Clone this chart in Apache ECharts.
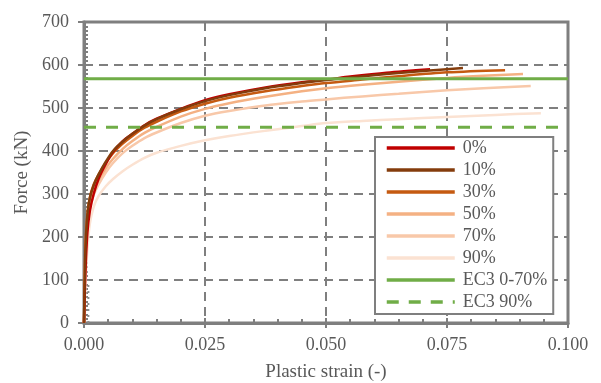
<!DOCTYPE html>
<html>
<head>
<meta charset="utf-8">
<script src="https://cdn.jsdelivr.net/npm/echarts@6/dist/echarts.min.js"></script>
<style>html,body{margin:0;padding:0;background:#fff}#c{width:601px;height:383px}</style>
</head>
<body>
<div id="c"></div>
<script>
// ---- data ----
const xTicks = [0, 0.025, 0.05, 0.075, 0.1];
const yTicks = [0, 100, 200, 300, 400, 500, 600, 700];

const strain0  = [0, 0.0003, 0.0007, 0.0012, 0.002, 0.003, 0.0045, 0.006, 0.008, 0.010, 0.0125, 0.015, 0.02, 0.025, 0.03, 0.0375, 0.045, 0.05, 0.055, 0.0625, 0.0715];
const force0   = [0, 120, 210, 260, 300, 335, 370, 398, 423, 440, 460, 475, 498, 518, 532, 548, 560, 566, 573, 582, 590];

const strain10 = [0, 0.0003, 0.0007, 0.0012, 0.002, 0.003, 0.0045, 0.006, 0.008, 0.010, 0.0125, 0.015, 0.02, 0.025, 0.03, 0.0375, 0.045, 0.05, 0.055, 0.0625, 0.07, 0.0783];
const force10  = [0, 170, 250, 290, 320, 345, 375, 400, 422, 440, 459, 474, 497, 516, 530, 546, 558, 565, 571, 579, 586, 593];

const strain30 = [0, 0.0003, 0.0007, 0.0012, 0.002, 0.003, 0.0045, 0.006, 0.008, 0.010, 0.0125, 0.015, 0.02, 0.025, 0.03, 0.0375, 0.045, 0.05, 0.0575, 0.065, 0.075, 0.087];
const force30  = [0, 180, 255, 292, 322, 345, 372, 395, 417, 435, 454, 468, 492, 510, 524, 539, 551, 558, 566, 574, 583, 588];

const strain50 = [0, 0.0003, 0.0007, 0.0012, 0.002, 0.003, 0.0045, 0.006, 0.008, 0.010, 0.0125, 0.015, 0.02, 0.025, 0.03, 0.0375, 0.045, 0.05, 0.0575, 0.065, 0.075, 0.0825, 0.0907];
const force50  = [0, 170, 240, 278, 308, 332, 360, 382, 405, 423, 442, 456, 480, 498, 511, 526, 539, 546, 554, 561, 570, 575, 579];

const strain70 = [0, 0.0003, 0.0007, 0.0012, 0.002, 0.003, 0.0045, 0.006, 0.008, 0.010, 0.0125, 0.015, 0.02, 0.025, 0.03, 0.0375, 0.045, 0.05, 0.0575, 0.065, 0.075, 0.0825, 0.0923];
const force70  = [0, 150, 225, 265, 298, 322, 350, 372, 395, 412, 430, 443, 465, 482, 493, 506, 515, 520, 527, 533, 541, 546, 551];

const strain90 = [0, 0.0003, 0.0007, 0.0012, 0.002, 0.003, 0.0045, 0.006, 0.008, 0.010, 0.0125, 0.015, 0.02, 0.025, 0.03, 0.0375, 0.045, 0.05, 0.0575, 0.065, 0.075, 0.085, 0.0944];
const force90  = [0, 90, 170, 230, 270, 295, 318, 335, 353, 368, 384, 396, 412, 425, 435, 447, 458, 465, 470, 474, 479, 484, 488];

const ec3StrainRange = [0, 0.1];
const ec3Full = [568, 568];
const ec390 = [455, 455];

const dotStrain = [0.0009, 0.0009];
const dotForce = [0, 100];

const names = ['0%', '10%', '30%', '50%', '70%', '90%', 'EC3 0-70%', 'EC3 90%'];

// ---- chart ----
const zip = (a, b) => a.map((v, i) => [v, b[i]]);
const txt = '#595959';
const axisGray = '#7f7f7f';
const font = 'Liberation Serif';

function curve(name, xs, ys, color, z) {
  return {
    name, type: 'line', data: zip(xs, ys), symbol: 'none', smooth: 0.3,
    lineStyle: { color, width: 2.5 }, itemStyle: { color }, z
  };
}

const chart = echarts.init(document.getElementById('c'), null, { renderer: 'canvas' });
chart.setOption({
  animation: false,
  backgroundColor: '#fff',
  grid: { left: 84, right: 33, top: 22, bottom: 60, containLabel: false, outerBoundsMode: 'none', show: true, borderColor: axisGray, borderWidth: 3, backgroundColor: 'transparent' },
  xAxis: [{
    type: 'value', min: xTicks[0], max: xTicks[xTicks.length - 1], interval: 0.025,
    name: 'Plastic strain (-)', nameLocation: 'middle', nameGap: 40,
    nameTextStyle: { color: txt, fontFamily: font, fontSize: 19 },
    axisLine: { show: true, lineStyle: { color: axisGray, width: 3 } },
    axisTick: { show: true, inside: true, length: 5, lineStyle: { color: axisGray, width: 2 } },
    minorTick: { show: true, splitNumber: 5, length: 4, lineStyle: { color: axisGray, width: 2 } },
    axisLabel: { color: txt, fontFamily: font, fontSize: 18, margin: 13, formatter: v => v.toFixed(3) },
    splitLine: { show: true, lineStyle: { color: axisGray, width: 2, type: [9, 6] } }
  }, {
    type: 'value', min: xTicks[0], max: xTicks[xTicks.length - 1], interval: 0.025, position: 'bottom',
    axisLine: { show: false }, axisTick: { show: true, inside: false, length: 5, lineStyle: { color: axisGray, width: 2 } },
    axisLabel: { show: false }, splitLine: { show: false }
  }],
  yAxis: [{
    type: 'value', min: yTicks[0], max: yTicks[yTicks.length - 1], interval: 100,
    name: 'Force (kN)', nameLocation: 'middle', nameGap: 47, nameRotate: 90,
    nameTextStyle: { color: txt, fontFamily: font, fontSize: 19 },
    axisLine: { show: true, lineStyle: { color: axisGray, width: 3 } },
    axisTick: { show: true, inside: true, length: 5, lineStyle: { color: axisGray, width: 2 } },
    minorTick: { show: true, splitNumber: 10, length: 4, lineStyle: { color: axisGray, width: 2 } },
    axisLabel: { color: txt, fontFamily: font, fontSize: 18, margin: 15 },
    splitLine: { show: true, lineStyle: { color: axisGray, width: 2, type: [9, 6] } }
  }, {
    type: 'value', min: yTicks[0], max: yTicks[yTicks.length - 1], interval: 100, position: 'left',
    axisLine: { show: false }, axisTick: { show: true, inside: false, length: 6, lineStyle: { color: axisGray, width: 2 } },
    axisLabel: { show: false }, splitLine: { show: false }
  }],
  legend: {
    orient: 'vertical', left: 375, top: 137,
    data: names,
    itemWidth: 68, itemHeight: 14, itemGap: 2,
    padding: [1, 6, 2, 10],
    backgroundColor: '#fff', borderColor: axisGray, borderWidth: 2, borderRadius: 0,
    itemStyle: { opacity: 0 },
    lineStyle: { width: 3.5 },
    textStyle: { color: txt, fontFamily: font, fontSize: 18, lineHeight: 20, padding: [0, 0, 0, 3] },
    z: 10
  },
  series: [
    curve('90%', strain90, force90, '#FBE2D2', 2),
    curve('70%', strain70, force70, '#F8C8A9', 2),
    curve('50%', strain50, force50, '#F4B183', 2),
    curve('30%', strain30, force30, '#C55A11', 2),
    curve('0%', strain0, force0, '#C00000', 2),
    curve('10%', strain10, force10, '#843C0C', 2),
    {
      name: 'EC3 0-70%', type: 'line', data: zip(ec3StrainRange, ec3Full), symbol: 'none',
      lineStyle: { color: '#70AD47', width: 3 }, itemStyle: { color: '#70AD47' }, z: 3
    },
    {
      name: 'EC3 90%', type: 'line', data: zip(ec3StrainRange, ec390), symbol: 'none',
      lineStyle: { color: '#70AD47', width: 3, type: [12, 10] }, itemStyle: { color: '#70AD47' }, z: 3
    },
    {
      name: 'dotted', type: 'line', data: zip(dotStrain, dotForce), symbol: 'none', silent: true,
      lineStyle: { color: '#8c8c8c', width: 2, type: [2, 4] }, z: 1
    }
  ]
});
</script>
</body>
</html>
